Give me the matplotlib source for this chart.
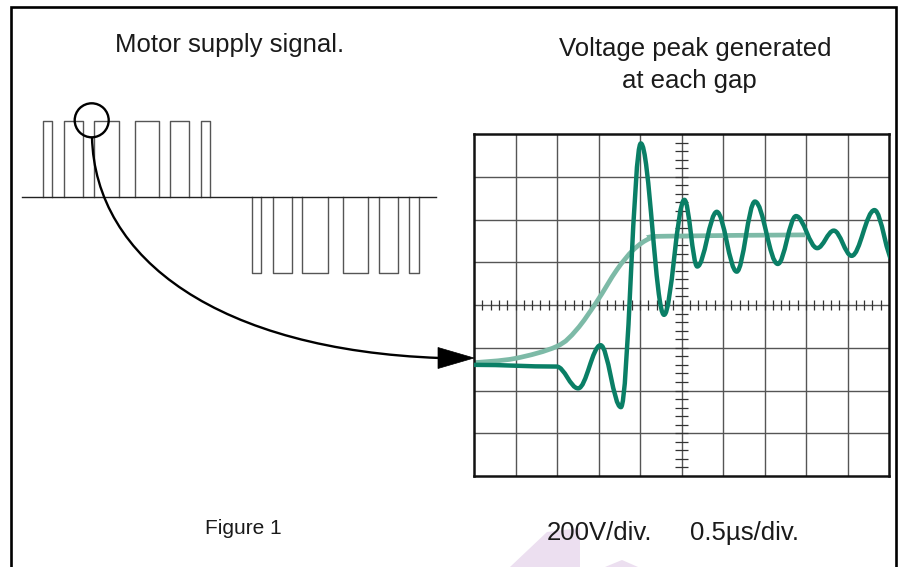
import matplotlib
matplotlib.use("Agg")
import matplotlib.pyplot as plt
from matplotlib.path import Path
from matplotlib.patches import PathPatch, Circle, Polygon

# PWM motor supply signal (time units 0..100 across the drawing)
pos_on = [5.1, 10.1, 17.4, 27.2, 35.8, 43.2]
pos_off = [7.3, 14.7, 23.4, 33.2, 40.4, 45.4]
neg_on = [55.5, 60.6, 67.7, 77.6, 86.2, 93.5]
neg_off = [57.7, 65.1, 73.8, 83.6, 90.8, 95.9]

# scope trace, in divisions (x 0..10, y -4..4): turning points of the ringing
ring_x = [0.0, 1.99, 2.51, 3.05, 3.54, 4.02, 4.58, 5.07, 5.38, 5.85, 6.33,
          6.77, 7.32, 7.76, 8.27, 8.67, 9.10, 9.65, 10.12]
ring_y = [-1.40, -1.44, -1.95, -0.94, -2.39, 3.78, -0.23, 2.46, 0.90, 2.18, 0.78,
          2.42, 0.96, 2.08, 1.33, 1.74, 1.15, 2.22, 1.00]

# ideal step (light trace)
step_x = [0.0, 0.99, 1.99, 2.47, 2.96, 3.44, 3.84, 4.24, 4.64, 7.98]
step_y = [-1.35, -1.25, -0.97, -0.58, 0.08, 0.82, 1.29, 1.56, 1.61, 1.64]

DARK = "#0a7f66"
LIGHT = "#7dbaa7"
FONT = "Liberation Sans"


def extrema_path(xs, ys, a=0.36):
    # smooth curve through turning points, flat tangent at each point
    verts = [(xs[0], ys[0])]
    codes = [Path.MOVETO]
    for i in range(len(xs) - 1):
        dx = xs[i + 1] - xs[i]
        verts += [(xs[i] + a * dx, ys[i]), (xs[i + 1] - a * dx, ys[i + 1]), (xs[i + 1], ys[i + 1])]
        codes += [Path.CURVE4] * 3
    return Path(verts, codes)


def spline_path(xs, ys):
    # catmull-rom through the points
    n = len(xs)
    verts = [(xs[0], ys[0])]
    codes = [Path.MOVETO]
    for i in range(n - 1):
        p0 = max(i - 1, 0)
        p3 = min(i + 2, n - 1)
        c1 = (xs[i] + (xs[i + 1] - xs[p0]) / 6, ys[i] + (ys[i + 1] - ys[p0]) / 6)
        c2 = (xs[i + 1] - (xs[p3] - xs[i]) / 6, ys[i + 1] - (ys[p3] - ys[i]) / 6)
        verts += [c1, c2, (xs[i + 1], ys[i + 1])]
        codes += [Path.CURVE4] * 3
    return Path(verts, codes)


W, H = 902, 567
fig = plt.figure(figsize=(W / 100, H / 100), dpi=100)

# --- PWM signal ---
pwm = fig.add_axes([22 / W, 1 - 272.7 / H, 414 / W, 152 / H])
pwm.set_xlim(0, 100)
pwm.set_ylim(-1, 1)
pwm.axis("off")
for on, off in zip(pos_on, pos_off):
    pwm.plot([on, on, off, off], [0, 1, 1, 0], color="#555555", lw=1.0, clip_on=False)
for on, off in zip(neg_on, neg_off):
    pwm.plot([on, on, off, off], [0, -1, -1, 0], color="#555555", lw=1.0, clip_on=False)
pwm.axhline(0, color="#222222", lw=1.0, clip_on=False)

# --- oscilloscope screen ---
ax = fig.add_axes([474 / W, 1 - 476 / H, 415 / W, 342 / H])
ax.set_xlim(0, 10)
ax.set_ylim(-4, 4)
ax.set_xticks([])
ax.set_yticks([])
for s in ax.spines.values():
    s.set_linewidth(1.8)
    s.set_color("#111111")
for gx in range(1, 10):
    ax.axvline(gx, color="#555555", lw=1.0, zorder=1)
for gy in range(-3, 4):
    ax.axhline(gy, color="#555555", lw=1.0, zorder=1)
tx = [i * 0.2 for i in range(1, 50)]
ty = [j * 0.2 - 4 for j in range(1, 40)]
ax.vlines(tx, -0.12, 0.12, color="#333333", lw=0.9, zorder=1)
ax.hlines(ty, 5 - 0.145, 5 + 0.145, color="#333333", lw=0.9, zorder=1)

ax.add_patch(PathPatch(spline_path(step_x, step_y), fill=False, edgecolor=LIGHT,
                       lw=3.4, capstyle="butt", zorder=2))
ax.add_patch(PathPatch(extrema_path(ring_x, ring_y), fill=False, edgecolor=DARK,
                       lw=3.2, capstyle="round", joinstyle="round", zorder=3))

# --- overlay in pixel units: frame, circle, arrow, text ---
ov = fig.add_axes([0, 0, 1, 1])
ov.set_xlim(0, W)
ov.set_ylim(H, 0)
ov.axis("off")

ov.plot([11, 11, 895.5, 895.5], [H, 7, 7, H], color="black", lw=1.9,
        solid_joinstyle="miter")

ov.add_patch(Circle((91.7, 120.3), 17, fill=False, edgecolor="black", lw=1.7))
arrow = Path([(92, 137), (95, 260), (220, 350), (440, 358)],
             [Path.MOVETO, Path.CURVE4, Path.CURVE4, Path.CURVE4])
ov.add_patch(PathPatch(arrow, fill=False, edgecolor="black", lw=1.7))
ov.add_patch(Polygon([(438, 347.5), (474, 358), (438, 368.5)], closed=True,
                     facecolor="black", edgecolor="black", lw=0.5))

# faint logo remnant at the bottom
ov.add_patch(Polygon([(547, 532), (580, 528), (580, H), (510, H)], closed=True,
                     facecolor="#ecdff0", edgecolor="none", zorder=0))
ov.add_patch(Polygon([(605, H), (622, 560), (638, H)], closed=True,
                     facecolor="#ecdff0", edgecolor="none", zorder=0))

tk = dict(family=FONT, color="#1a1a1a")
ov.text(230, 45, "Motor supply signal.", ha="center", va="center", fontsize=18.5, **tk)
ov.text(695, 49, "Voltage peak generated", ha="center", va="center", fontsize=18.5, **tk)
ov.text(689, 81, "at each gap", ha="center", va="center", fontsize=18.5, **tk)
ov.text(243, 529, "Figure 1", ha="center", va="center", fontsize=15, **tk)
ov.text(547, 533, "200V/div.", ha="left", va="center", fontsize=18.5, **tk)
ov.text(690, 533, "0.5µs/div.", ha="left", va="center", fontsize=18.5, **tk)

fig.savefig("out.png", dpi=100)
